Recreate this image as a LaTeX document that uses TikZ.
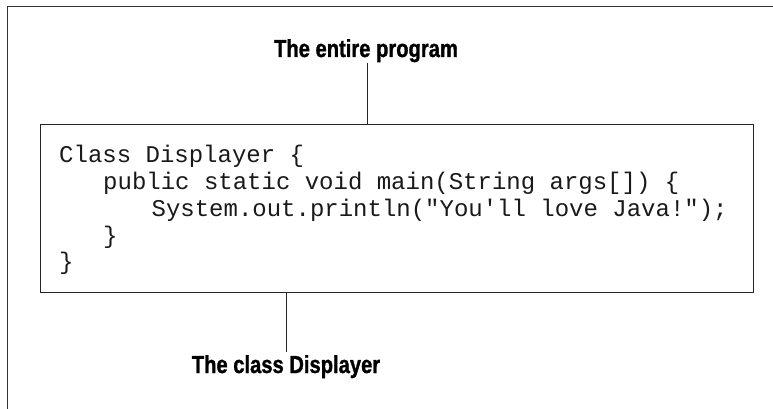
\documentclass[tikz,border=0pt]{standalone}
\usepackage{fontspec}
\newfontfamily\lblfont{Liberation Sans}[FakeStretch=0.82,FakeBold=1.2]
\newfontfamily\codefont{Liberation Mono}
\begin{document}
\begin{tikzpicture}[x=1pt,y=-1pt,
  frameline/.style={draw=black!80,line width=1pt},
  codebox/.style={draw=black!85,line width=1.3pt,inner sep=0pt,minimum width=713pt,minimum height=168pt,anchor=north west},
  lbl/.style={inner sep=0pt,anchor=base,font=\lblfont\bfseries\fontsize{24.6}{26}\selectfont},
  codeline/.style={inner sep=0pt,anchor=base west,text=black!90,font=\codefont\fontsize{24}{26.8}\selectfont},
  connector/.style={draw=black!85,line width=1pt}]
\useasboundingbox (0,0) rectangle (773,409);
% outer frame (open on the right and at the bottom)
\coordinate (frameTR) at (773,6.5);
\coordinate (frameTL) at (7,6.5);
\coordinate (frameBL) at (7,409);
\draw[frameline] (frameTR) -- (frameTL) -- (frameBL);
% code box
\node[codebox] (box) at (40,124) {};
\node[codeline] (c1) at (59,162.7) {Class Displayer \{};
\node[codeline] (c2) at (103,189.5) {public static void main(String args[]) \{};
\node[codeline] (c3) at (151.4,216.3) {System.out.println("You'll love Java!");};
\node[codeline] (c4) at (103,243.1) {\}};
\node[codeline] (c5) at (59,269.9) {\}};
% labels
\node[lbl] (prog) at (366,57) {The entire program};
\node[lbl] (cls) at (286,373) {The class Displayer};
\coordinate (progfoot) at (367,63);
\coordinate (clsfoot) at (286,352);
\draw[connector] (progfoot) -- (progfoot |- box.north);
\draw[connector] (clsfoot |- box.south) -- (clsfoot);
\end{tikzpicture}
\end{document}
